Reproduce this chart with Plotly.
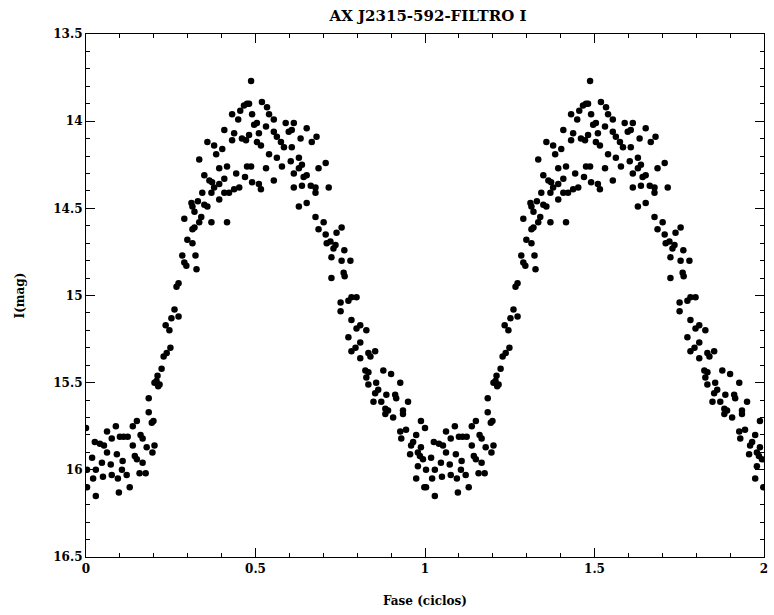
import plotly.graph_objects as go

title_text = "AX J2315-592-FILTRO I"
x_label = "Fase (ciclos)"
y_label = "I(mag)"

# phase (one cycle)
phase = [
    0.000, 0.026, 0.041, 0.053, 0.018, 0.003, 0.029, 0.021, 0.003, 0.029, 0.050, 0.047, 0.062, 0.062, 0.076,
    0.088, 0.073, 0.076, 0.091, 0.094, 0.097, 0.100, 0.111, 0.123, 0.108, 0.106, 0.120, 0.129, 0.138, 0.150,
    0.138, 0.144, 0.150, 0.161, 0.167, 0.167, 0.158, 0.176, 0.179, 0.194, 0.199, 0.202, 0.196, 0.185, 0.185,
    0.202, 0.217, 0.211, 0.223, 0.229, 0.238, 0.249, 0.235, 0.246, 0.252, 0.273, 0.261, 0.267, 0.273, 0.284,
    0.290, 0.323, 0.326, 0.296, 0.299, 0.314, 0.314, 0.320, 0.290, 0.208, 0.213,
    0.334, 0.340, 0.370, 0.416, 0.311, 0.314, 0.349, 0.358, 0.393, 0.343, 0.370, 0.378, 0.393, 0.408, 0.408,
    0.422, 0.437, 0.452, 0.349, 0.364, 0.372, 0.393, 0.416, 0.443, 0.469, 0.475, 0.334, 0.358, 0.378, 0.384,
    0.402, 0.431, 0.408, 0.437, 0.460, 0.472, 0.431, 0.449, 0.455, 0.466, 0.475, 0.487, 0.320, 0.330,
    0.481, 0.490, 0.496, 0.504, 0.481, 0.510, 0.504, 0.516, 0.519, 0.534, 0.540, 0.531, 0.554, 0.554, 0.563,
    0.575, 0.584, 0.589, 0.598, 0.607, 0.613, 0.607, 0.633, 0.651, 0.666, 0.680, 0.540, 0.563, 0.578, 0.604,
    0.628, 0.487, 0.531, 0.490, 0.510, 0.516, 0.554, 0.613, 0.628, 0.637, 0.642, 0.651, 0.686, 0.707, 0.613,
    0.637, 0.663, 0.677, 0.677, 0.716, 0.628, 0.651, 0.677, 0.686, 0.701, 0.707, 0.739, 0.754, 0.710, 0.736,
    0.721, 0.730, 0.724, 0.762, 0.754, 0.780, 0.760, 0.763, 0.724, 0.774, 0.783, 0.798, 0.751, 0.751, 0.783,
    0.809, 0.798, 0.827, 0.774, 0.809, 0.795, 0.783, 0.833, 0.839, 0.853, 0.809, 0.824, 0.833, 0.877, 0.900,
    0.827, 0.927, 0.833, 0.856, 0.862, 0.886, 0.912, 0.915, 0.848, 0.871, 0.950, 0.883, 0.891, 0.935, 0.883,
    0.906, 0.935, 0.988, 0.927, 0.944, 0.974, 0.930, 0.959, 0.988, 0.956, 0.979, 0.985, 0.979, 0.974, 0.853,
    0.994, 0.965, 0.998,
]
mag = [
    15.76, 15.84, 15.85, 15.86, 15.93, 16.00, 16.00, 16.05, 16.10, 16.15, 16.04, 15.96, 15.90, 15.78, 15.82,
    15.75, 15.97, 16.03, 15.91, 16.05, 16.13, 15.81, 15.81, 15.81, 15.95, 16.00, 16.03, 16.10, 15.75, 15.72,
    15.86, 15.92, 15.94, 15.80, 15.82, 15.96, 16.02, 16.02, 15.87, 15.73, 15.72, 15.86, 15.90, 15.67, 15.59,
    15.50, 15.51, 15.46, 15.42, 15.35, 15.33, 15.30, 15.17, 15.20, 15.13, 15.12, 15.08, 14.95, 14.93, 14.77,
    14.81, 14.77, 14.85, 14.83, 14.68, 14.70, 14.62, 14.61, 14.56, 15.49, 15.52,
    14.58, 14.55, 14.58, 14.58, 14.47, 14.49, 14.48, 14.49, 14.45, 14.41, 14.41, 14.38, 14.36, 14.33, 14.41,
    14.41, 14.39, 14.38, 14.31, 14.34, 14.35, 14.27, 14.26, 14.30, 14.32, 14.26, 14.22, 14.12, 14.14, 14.19,
    14.16, 14.11, 14.05, 14.07, 14.10, 14.11, 13.96, 13.99, 13.94, 13.91, 13.90, 13.77, 14.52, 14.46,
    13.90, 13.96, 14.02, 14.01, 14.08, 14.07, 14.12, 14.14, 13.89, 13.92, 13.96, 14.03, 13.99, 14.06, 14.09,
    14.12, 14.15, 14.01, 14.06, 14.05, 14.01, 14.15, 14.10, 14.04, 14.12, 14.09, 14.19, 14.21, 14.26, 14.23,
    14.21, 14.26, 14.27, 14.35, 14.36, 14.39, 14.34, 14.30, 14.27, 14.25, 14.32, 14.31, 14.27, 14.24, 14.38,
    14.37, 14.37, 14.38, 14.41, 14.38, 14.49, 14.47, 14.55, 14.62, 14.58, 14.65, 14.64, 14.61, 14.70, 14.71,
    14.69, 14.73, 14.78, 14.74, 14.80, 14.80, 14.87, 14.89, 14.90, 15.03, 15.01, 15.01, 15.04, 15.09, 15.14,
    15.17, 15.19, 15.20, 15.24, 15.27, 15.30, 15.32, 15.33, 15.35, 15.32, 15.36, 15.43, 15.44, 15.43, 15.45,
    15.47, 15.50, 15.51, 15.50, 15.54, 15.57, 15.57, 15.59, 15.61, 15.61, 15.61, 15.65, 15.66, 15.66, 15.68,
    15.70, 15.68, 15.72, 15.78, 15.77, 15.80, 15.82, 15.86, 15.87, 15.91, 15.90, 15.92, 15.98, 16.05, 15.56,
    15.94, 15.84, 16.10,
]
cycles = [0, 1]

x_ticks = [0, 0.5, 1, 1.5, 2]
x_ticktext = ["0", "0.5", "1", "1.5", "2"]
y_ticks = [13.5, 14, 14.5, 15, 15.5, 16, 16.5]
y_ticktext = ["13.5", "14", "14.5", "15", "15.5", "16", "16.5"]

fig = go.Figure()
for c in cycles:
    fig.add_trace(go.Scatter(
        x=[p + c for p in phase], y=mag, mode="markers",
        marker=dict(color="black", size=6.5, line=dict(width=0)),
        showlegend=False,
    ))

font_family = "DejaVu Serif"
axis_common = dict(
    showline=True, linecolor="black", linewidth=1.2, mirror="ticks",
    ticks="inside", ticklen=9, tickwidth=1, tickcolor="black",
    showgrid=False, zeroline=False,
    tickfont=dict(family=font_family, size=12, color="black", weight="bold"),
)

fig.update_layout(
    width=774, height=615,
    paper_bgcolor="white", plot_bgcolor="white",
    margin=dict(l=86, r=6, t=34, b=58),
    title=dict(text=title_text, x=0.553, xanchor="center", y=0.975, yanchor="middle",
               font=dict(family=font_family, size=15, color="black", weight="bold")),
    xaxis=dict(range=[0, 2], tickvals=x_ticks, ticktext=x_ticktext,
               minor=dict(ticks="inside", dtick=0.1, ticklen=4, tickcolor="black"),
               title=dict(text=x_label, standoff=22,
                          font=dict(family=font_family, size=12, color="black", weight="bold")),
               **axis_common),
    yaxis=dict(range=[16.5, 13.5], tickvals=y_ticks, ticktext=y_ticktext,
               minor=dict(ticks="inside", dtick=0.1, ticklen=4, tickcolor="black"),
               title=dict(text=y_label, standoff=26,
                          font=dict(family=font_family, size=12, color="black", weight="bold")),
               **axis_common),
)

fig.write_html("out.html")
